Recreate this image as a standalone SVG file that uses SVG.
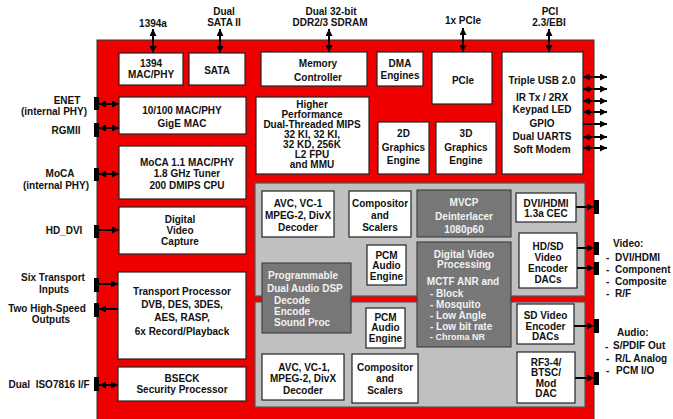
<svg xmlns="http://www.w3.org/2000/svg" width="673" height="419" viewBox="0 0 673 419">
<defs>
<style>
.t{font-family:"Liberation Sans",Arial,sans-serif;font-weight:bold;font-size:10px;text-anchor:middle;dominant-baseline:central;fill:#111}
.l{text-anchor:start}
.w{fill:#f2f2f2}
.box{fill:#fff;stroke:#222;stroke-width:1.2}
.dk{fill:#777;stroke:#444;stroke-width:1.2}
.panel{fill:#c0c0c0;stroke:#555;stroke-width:1.2}
.tab{fill:#000}
.c{stroke:#000;stroke-width:2;fill:none}
.s{font-size:9px}
</style>
<marker id="ah" viewBox="0 0 8 8" refX="8" refY="4" markerWidth="7" markerHeight="7" orient="auto-start-reverse" markerUnits="userSpaceOnUse"><path d="M0,0 L8,4 L0,8 z" fill="#000"/></marker>
</defs>
<rect width="673" height="419" fill="#fff"/>
<!-- main chip -->
<rect x="97" y="40" width="497" height="400" fill="#ee0000" stroke="#333" stroke-width="1"/>
<!-- gray panels -->
<rect class="panel" x="255" y="183" width="330" height="113"/>
<rect class="panel" x="255" y="302" width="330" height="105"/>

<!-- external labels -->
<g id="labels">
<text class="t" x="153" y="23">1394a</text>
<text class="t" x="224" y="11">Dual</text>
<text class="t" x="224" y="22">SATA II</text>
<text class="t" x="331" y="11">Dual 32-bit</text>
<text class="t" x="330" y="22">DDR2/3 SDRAM</text>
<text class="t" x="463" y="20">1x PCIe</text>
<text class="t" x="550" y="11">PCI</text>
<text class="t" x="549" y="22">2.3/EBI</text>
<text class="t" x="67" y="100">ENET</text>
<text class="t" x="54" y="111">(internal PHY)</text>
<text class="t" x="66" y="130">RGMII</text>
<text class="t" x="60" y="173">MoCA</text>
<text class="t" x="56" y="185">(internal PHY)</text>
<text class="t" x="64" y="230">HD_DVI</text>
<text class="t" x="53" y="277">Six Transport</text>
<text class="t" x="54" y="289">Inputs</text>
<text class="t" x="47" y="308">Two High-Speed</text>
<text class="t" x="51" y="319">Outputs</text>
<text class="t" x="49" y="384" style="white-space:pre">Dual  ISO7816 I/F</text>
<text class="t l" x="613" y="243">Video:</text>
<text class="t l" x="606" y="257">-</text><text class="t l" x="615" y="257">DVI/HDMI</text>
<text class="t l" x="606" y="269">-</text><text class="t l" x="615" y="269">Component</text>
<text class="t l" x="606" y="281">-</text><text class="t l" x="615" y="281">Composite</text>
<text class="t l" x="606" y="293">-</text><text class="t l" x="615" y="293">R/F</text>
<text class="t l" x="617" y="332">Audio:</text>
<text class="t l" x="605" y="346">-</text><text class="t l" x="613" y="345">S/PDIF Out</text>
<text class="t l" x="606" y="358">-</text><text class="t l" x="615" y="358">R/L Analog</text>
<text class="t l" x="606" y="370">-</text><text class="t l" x="616" y="370">PCM I/O</text>
</g>

<!-- tabs -->
<g id="tabs">
<rect class="tab" x="94" y="97" width="5" height="13"/>
<rect class="tab" x="94" y="123" width="5" height="14"/>
<rect class="tab" x="94" y="168" width="5" height="13"/>
<rect class="tab" x="94" y="225" width="5" height="13"/>
<rect class="tab" x="94" y="278" width="5" height="14"/>
<rect class="tab" x="94" y="303" width="5" height="14"/>
<rect class="tab" x="94" y="377" width="5" height="14"/>
<rect class="tab" x="594" y="200" width="5" height="14"/>
<rect class="tab" x="594" y="242" width="5" height="13"/>
<rect class="tab" x="594" y="262" width="5" height="13"/>
<rect class="tab" x="594" y="319" width="5" height="14"/>
<rect class="tab" x="594" y="372" width="5" height="13"/>
</g>

<!-- connectors -->
<g id="connectors">
<line class="c" x1="153" y1="29" x2="153" y2="53" marker-start="url(#ah)" marker-end="url(#ah)"/>
<line class="c" x1="220" y1="29" x2="220" y2="53" marker-start="url(#ah)" marker-end="url(#ah)"/>
<line class="c" x1="329" y1="29" x2="329" y2="52" marker-start="url(#ah)" marker-end="url(#ah)"/>
<line class="c" x1="463" y1="28" x2="463" y2="52" marker-start="url(#ah)" marker-end="url(#ah)"/>
<line class="c" x1="549" y1="29" x2="549" y2="52" marker-start="url(#ah)" marker-end="url(#ah)"/>
<line class="c" x1="99" y1="104" x2="119" y2="104" marker-start="url(#ah)" marker-end="url(#ah)"/>
<line class="c" x1="99" y1="128" x2="119" y2="128" marker-start="url(#ah)" marker-end="url(#ah)"/>
<line class="c" x1="99" y1="174" x2="119" y2="174" marker-start="url(#ah)" marker-end="url(#ah)"/>
<line class="c" x1="99" y1="230" x2="119" y2="230" marker-end="url(#ah)"/>
<line class="c" x1="99" y1="284" x2="118" y2="284" marker-end="url(#ah)"/>
<line class="c" x1="118" y1="309" x2="99" y2="309" marker-end="url(#ah)"/>
<line class="c" x1="99" y1="385" x2="118" y2="385" marker-start="url(#ah)" marker-end="url(#ah)"/>
<line class="c" x1="583" y1="77" x2="607" y2="77" marker-start="url(#ah)" marker-end="url(#ah)"/>
<line class="c" x1="583" y1="89" x2="607" y2="89" marker-start="url(#ah)" marker-end="url(#ah)"/>
<line class="c" x1="583" y1="101" x2="607" y2="101" marker-start="url(#ah)" marker-end="url(#ah)"/>
<line class="c" x1="583" y1="112" x2="607" y2="112" marker-start="url(#ah)" marker-end="url(#ah)"/>
<line class="c" x1="583" y1="124" x2="607" y2="124" marker-end="url(#ah)"/>
<line class="c" x1="583" y1="137" x2="607" y2="137" marker-start="url(#ah)" marker-end="url(#ah)"/>
<line class="c" x1="583" y1="148" x2="607" y2="148" marker-start="url(#ah)" marker-end="url(#ah)"/>
<line class="c" x1="576" y1="207" x2="594" y2="207" marker-end="url(#ah)"/>
<line class="c" x1="577" y1="248" x2="594" y2="248" marker-end="url(#ah)"/>
<line class="c" x1="577" y1="268" x2="594" y2="268" marker-end="url(#ah)"/>
<line class="c" x1="574" y1="326" x2="594" y2="326" marker-end="url(#ah)"/>
<line class="c" x1="575" y1="378" x2="594" y2="378" marker-end="url(#ah)"/>
</g>

<!-- nodes -->
<g id="n1394"><rect class="box" x="119" y="53" width="64" height="32"/><text class="t" x="151" y="63">1394</text><text class="t" x="151" y="74">MAC/PHY</text></g>
<g id="sata"><rect class="box" x="189" y="53" width="56" height="32"/><text class="t" x="217" y="70">SATA</text></g>
<g id="memctl"><rect class="box" x="261" y="52" width="106" height="34"/><text class="t" x="318" y="63">Memory</text><text class="t" x="318" y="77">Controller</text></g>
<g id="dma"><rect class="box" x="377" y="52" width="46" height="34"/><text class="t" x="400" y="63">DMA</text><text class="t" x="400" y="75">Engines</text></g>
<g id="pcie"><rect class="box" x="432" y="52" width="60" height="52"/><text class="t" x="463" y="80">PCIe</text></g>
<g id="usb"><rect class="box" x="502" y="52" width="81" height="122"/>
<text class="t" x="542" y="80">Triple USB 2.0</text><text class="t" x="542" y="97">IR Tx / 2RX</text><text class="t" x="542" y="109">Keypad LED</text><text class="t" x="542" y="123">GPIO</text><text class="t" x="542" y="136">Dual UARTS</text><text class="t" x="542" y="149">Soft Modem</text></g>
<g id="enet"><rect class="box" x="119" y="97" width="127" height="37"/><text class="t" x="182" y="110">10/100 MAC/PHY</text><text class="t" x="182" y="123">GigE MAC</text></g>
<g id="mips"><rect class="box" x="256" y="97" width="113" height="77"/>
<text class="t" x="312" y="104">Higher</text><text class="t" x="312" y="114">Performance</text><text class="t" x="312" y="124">Dual-Threaded MIPS</text><text class="t" x="312" y="134">32 KI, 32 KI,</text><text class="t" x="312" y="144">32 KD, 256K</text><text class="t" x="312" y="154">L2 FPU</text><text class="t" x="312" y="164">and MMU</text></g>
<g id="g2d"><rect class="box" x="378" y="122" width="51" height="52"/><text class="t" x="403.5" y="133">2D</text><text class="t" x="403.5" y="147">Graphics</text><text class="t" x="403.5" y="160">Engine</text></g>
<g id="g3d"><rect class="box" x="436" y="122" width="60" height="52"/><text class="t" x="466" y="133">3D</text><text class="t" x="466" y="147">Graphics</text><text class="t" x="466" y="160">Engine</text></g>
<g id="moca"><rect class="box" x="119" y="146" width="127" height="53"/><text class="t" x="187" y="162">MoCA 1.1 MAC/PHY</text><text class="t" x="187" y="173">1.8 GHz Tuner</text><text class="t" x="187" y="185">200 DMIPS CPU</text></g>
<g id="dvc"><rect class="box" x="119" y="207" width="127" height="47"/><text class="t" x="180" y="219">Digital</text><text class="t" x="180" y="230">Video</text><text class="t" x="180" y="241">Capture</text></g>
<g id="tp"><rect class="box" x="118" y="272" width="128" height="87"/><text class="t" x="182" y="291">Transport Processor</text><text class="t" x="182" y="304">DVB, DES, 3DES,</text><text class="t" x="182" y="317">AES, RASP,</text><text class="t" x="182" y="331">6x Record/Playback</text></g>
<g id="bseck"><rect class="box" x="118" y="367" width="128" height="34"/><text class="t" x="182" y="378">BSECK</text><text class="t" x="182" y="389">Security Processor</text></g>

<g id="avc1"><rect class="box" x="262" y="191" width="72" height="46"/><text class="t" x="298" y="203">AVC, VC-1</text><text class="t" x="298" y="215">MPEG-2, DivX</text><text class="t" x="298" y="227">Decoder</text></g>
<g id="comp1"><rect class="box" x="349" y="191" width="62" height="46"/><text class="t" x="380" y="203">Compositor</text><text class="t" x="380" y="215">and</text><text class="t" x="380" y="227">Scalers</text></g>
<g id="mvcp"><rect class="dk" x="417" y="190" width="94" height="47"/><text class="t w" x="464" y="202">MVCP</text><text class="t w" x="464" y="216">Deinterlacer</text><text class="t w" x="464" y="229">1080p60</text></g>
<g id="dvi"><rect class="box" x="516" y="193" width="60" height="29"/><text class="t" x="546" y="203">DVI/HDMI</text><text class="t" x="546" y="213">1.3a CEC</text></g>
<g id="pcm1"><rect class="box" x="367" y="245" width="39" height="40"/><text class="t" x="386.5" y="255">PCM</text><text class="t" x="386.5" y="265">Audio</text><text class="t" x="386.5" y="276">Engine</text></g>
<g id="dsp"><rect class="dk" x="262" y="263" width="89" height="70"/><text class="t w l" x="268" y="275">Programmable</text><text class="t w l" x="267" y="288">Dual Audio DSP</text><text class="t w l" x="274" y="300">Decode</text><text class="t w l" x="274" y="311">Encode</text><text class="t w l" x="274" y="322">Sound Proc</text></g>
<g id="dvp"><rect class="dk" x="417" y="242" width="94" height="105"/><text class="t w" x="464" y="254">Digital Video</text><text class="t w" x="464" y="264">Processing</text><text class="t w" x="463" y="281">MCTF ANR and</text>
<text class="t w l" x="430" y="293">- Block</text><text class="t w l" x="430" y="304">- Mosquito</text><text class="t w l" x="430" y="315">- Low Angle</text><text class="t w l" x="430" y="326">- Low bit rate</text><text class="t w l s" x="430" y="337">- Chroma NR</text></g>
<g id="hdsd"><rect class="box" x="519" y="233" width="58" height="55"/><text class="t" x="548" y="246">HD/SD</text><text class="t" x="548" y="257">Video</text><text class="t" x="548" y="268">Encoder</text><text class="t" x="548" y="279">DACs</text></g>
<g id="sdvid"><rect class="box" x="517" y="304" width="57" height="40"/><text class="t" x="545.5" y="315">SD Video</text><text class="t" x="545.5" y="326">Encoder</text><text class="t" x="545.5" y="336">DACs</text></g>
<g id="pcm2"><rect class="box" x="366" y="308" width="39" height="40"/><text class="t" x="385.5" y="317">PCM</text><text class="t" x="385.5" y="327">Audio</text><text class="t" x="385.5" y="338">Engine</text></g>
<g id="avc2"><rect class="box" x="262" y="354" width="82" height="46"/><text class="t" x="304" y="367">AVC, VC-1,</text><text class="t" x="303" y="378">MPEG-2, DivX</text><text class="t" x="303" y="390">Decoder</text></g>
<g id="comp2"><rect class="box" x="352" y="354" width="66" height="49"/><text class="t" x="385" y="367">Compositor</text><text class="t" x="385" y="378">and</text><text class="t" x="385" y="390">Scalers</text></g>
<g id="rf"><rect class="box" x="517" y="352" width="58" height="51"/><text class="t" x="546" y="362">RF3-4/</text><text class="t" x="546" y="372">BTSC/</text><text class="t" x="546" y="383">Mod</text><text class="t" x="546" y="393">DAC</text></g>
</svg>
